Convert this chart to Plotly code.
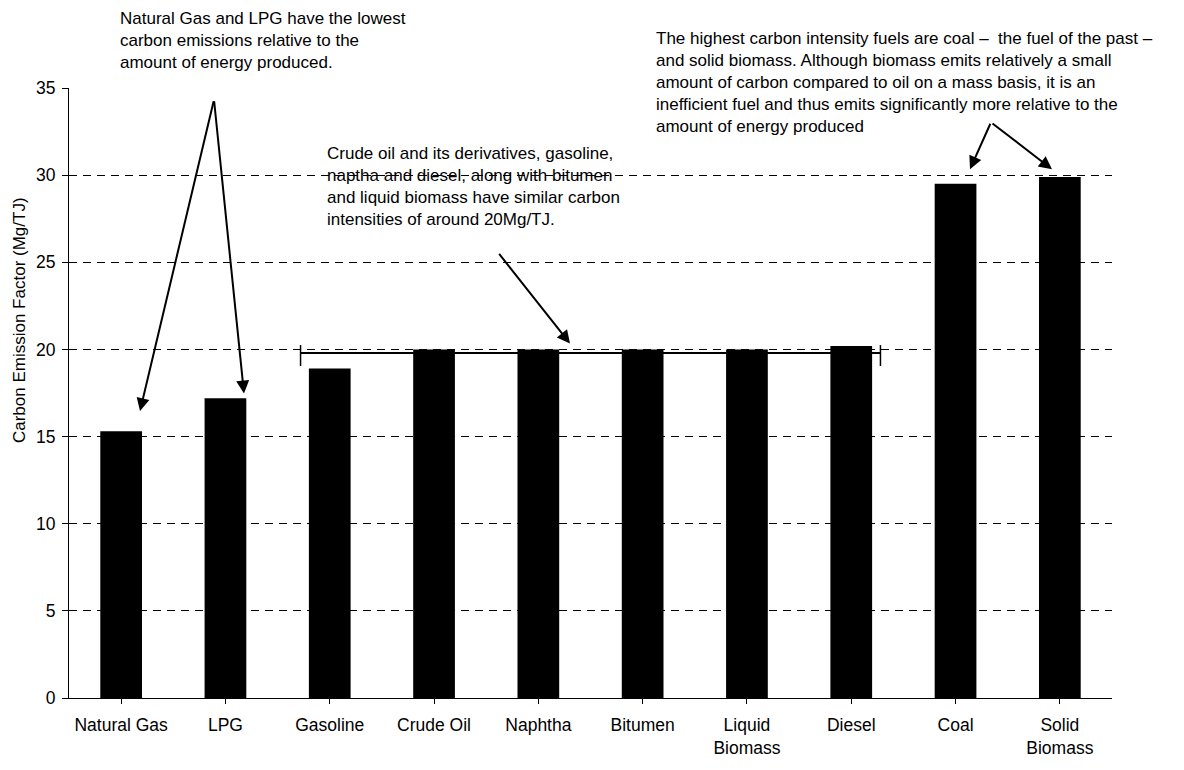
import plotly.graph_objects as go

categories = ["Natural Gas", "LPG", "Gasoline", "Crude Oil", "Naphtha", "Bitumen",
              "Liquid<br>Biomass", "Diesel", "Coal", "Solid<br>Biomass"]
values = [15.3, 17.2, 18.9, 20.0, 20.0, 20.0, 20.0, 20.2, 29.5, 29.9]
y_ticks = [0, 5, 10, 15, 20, 25, 30, 35]

FONT = "Liberation Sans, Arial, sans-serif"
W, H = 1184, 770
L, R, T, B = 69, 72, 88, 59
PW, PH = W - L - R, H - T - B


def px(xp):
    # pixel -> category index
    return (xp - L) / (PW / len(categories)) - 0.5


def py(yp):
    return (H - B - yp) / PH * 35


def ppx(xp):
    return (xp - L) / PW


def ppy(yp):
    return (H - B - yp) / PH


fig = go.Figure()
fig.add_trace(go.Bar(x=list(range(len(categories))), y=values, width=0.4,
                     marker=dict(color="black", line=dict(color="black", width=0)),
                     showlegend=False))

# bracket line around 20 Mg/TJ
bx0, bx1, by = 1.72, 7.28, 19.8
fig.add_shape(type="line", x0=bx0, x1=bx1, y0=by, y1=by, xref="x", yref="y",
              line=dict(color="black", width=2))
for bx in (bx0, bx1):
    fig.add_shape(type="line", x0=bx, x1=bx, y0=by + 0.45, y1=by - 0.75, xref="x", yref="y",
                  line=dict(color="black", width=1.5))

txt1 = "Natural Gas and LPG have the lowest<br>carbon emissions relative to the<br>amount of energy produced."
txt2 = ("Crude oil and its derivatives, gasoline,<br>naptha and diesel, along with bitumen<br>"
        "and liquid biomass have similar carbon<br>intensities of around 20Mg/TJ.")
txt3 = ("The highest carbon intensity fuels are coal –  the fuel of the past –<br>"
        "and solid biomass. Although biomass emits relatively a small<br>"
        "amount of carbon compared to oil on a mass basis, it is an<br>"
        "inefficient fuel and thus emits significantly more relative to the<br>"
        "amount of energy produced")

annots = []
for t, xp, yp in ((txt1, 118, 5), (txt2, 325, 143), (txt3, 654, 26)):
    annots.append(dict(text=t, x=ppx(xp), y=ppy(yp), xref="paper", yref="paper",
                       showarrow=False, xanchor="left", yanchor="top", align="left",
                       font=dict(family=FONT, size=17, color="black")))

arrows = [
    # (tail_px, tail_py, tip_px, tip_py)
    (214, 100, 140, 418),
    (214, 100, 244, 400),
    (498, 256, 570, 349),
    (991, 123, 970, 171),
    (991, 123, 1052, 171),
]
for ax_, ay_, x_, y_ in arrows:
    annots.append(dict(x=px(x_), y=py(y_), ax=px(ax_), ay=py(ay_), xref="x", yref="y",
                       axref="x", ayref="y", text="", showarrow=True, arrowhead=2,
                       arrowsize=1.3, arrowwidth=2, arrowcolor="black", standoff=0))

annots.append(dict(text="Carbon Emission Factor (Mg/TJ)", textangle=-90, x=ppx(19), y=ppy(325),
                   xref="paper", yref="paper", showarrow=False, xanchor="center",
                   yanchor="middle", font=dict(family=FONT, size=17, color="black")))

fig.update_layout(
    width=W, height=H, margin=dict(l=L, r=R, t=T, b=B),
    paper_bgcolor="white", plot_bgcolor="white",
    font=dict(family=FONT, size=17, color="black"),
    annotations=annots,
)

fig.update_xaxes(range=[-0.5, len(categories) - 0.5], tickmode="array",
                 tickvals=list(range(len(categories))), ticktext=categories,
                 showline=True, linecolor="black", linewidth=1, ticks="outside",
                 tickson="boundaries", ticklen=5, tickcolor="black", showgrid=False,
                 zeroline=False, tickfont=dict(family=FONT, size=17.5), ticklabelstandoff=6)
fig.update_yaxes(range=[0, 35], tickvals=y_ticks, showline=True, linecolor="black",
                 linewidth=1, ticks="outside", ticklen=6, tickcolor="black",
                 showgrid=True, gridcolor="black", gridwidth=1, griddash="8px,6px",
                 zeroline=False, tickfont=dict(family=FONT, size=17.5), ticklabelstandoff=3)

fig.write_html("out.html")
